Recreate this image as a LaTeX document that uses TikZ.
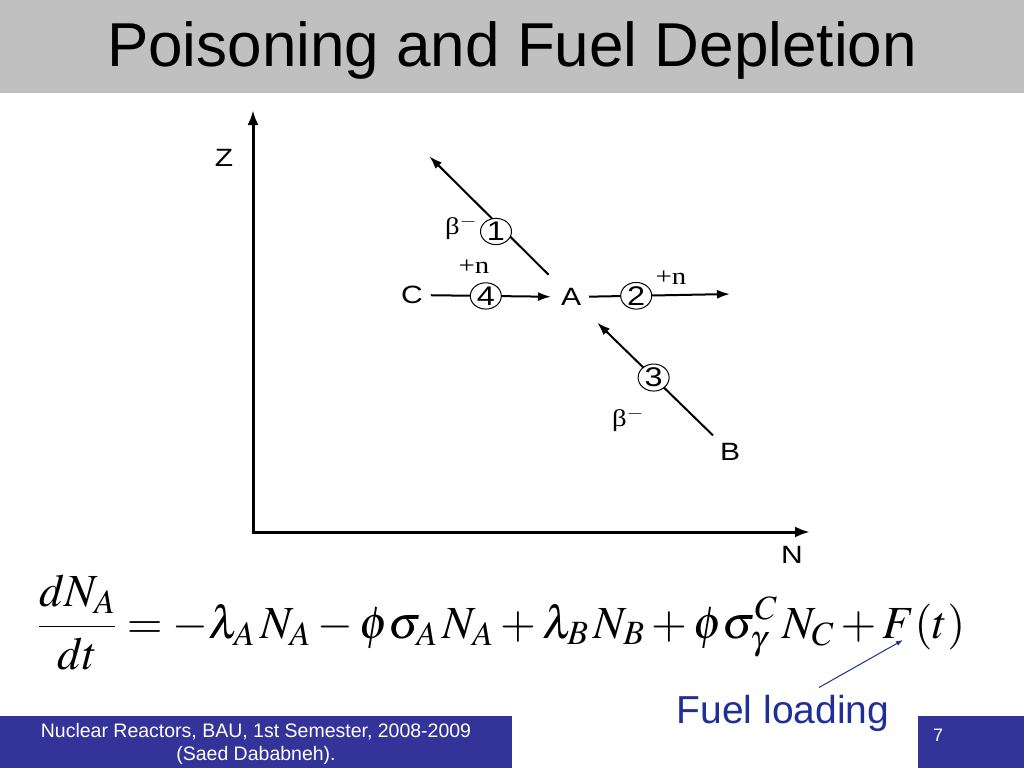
\documentclass[tikz,border=0pt]{standalone}
\usepackage{amsmath}
\usepackage{graphicx}
\usepackage{mathptmx}
\usepackage{fontspec}
\setmainfont{Liberation Serif}
\setsansfont{Liberation Sans}
\usetikzlibrary{arrows.meta,shapes.geometric}

\definecolor{titlegray}{RGB}{192,192,192}
\definecolor{footblue}{RGB}{51,51,153}
\definecolor{fuelblue}{RGB}{30,48,150}

\newcommand{\fs}[1]{\fontsize{#1}{1.2\dimexpr#1pt\relax}\selectfont}
\newcommand{\wide}[1]{\scalebox{1.2}[1]{#1}}

\begin{document}
\begin{tikzpicture}[
            x = 1pt, y = -1pt, % pixel grid, y down
            > = {Latex[length=13pt,width=9pt]}, % arrow head style
            shorten > = 2pt, % don't touch arrow head to node
            line width = 2pt, % line style
            nuclide/.style = {font=\sffamily\fs{25}, inner sep=7pt},
            decay/.style = {ellipse, draw=black, line width=1pt, fill=white, inner sep=0pt,
                            minimum width=31pt, minimum height=25pt, font=\sffamily\fs{27}},
            react/.style = {font=\rmfamily\fs{24}, inner sep=0pt},
            axis/.style = {line width=3pt, line join=miter,
                           {Latex[length=15pt,width=11pt]}-{Latex[length=15pt,width=11pt]}, shorten > = 0pt}
        ]
\useasboundingbox (0,0) rectangle (1024,768);

% title bar
\fill[titlegray] (0,0) rectangle (1024,93);
\node[font=\sffamily\fs{62}] (title) at (512,50) {Poisoning and Fuel Depletion};

% N-Z chart axes
\coordinate (ztop) at (253,110);
\coordinate (nend) at (810,532);
\draw[axis] (ztop) |- (nend);
\node[font=\sffamily\fs{25}] (Z) at (224,158) {\wide{Z}};
\node[font=\sffamily\fs{25}] (N) at (792,555) {\wide{N}};

% nuclides
\node[nuclide] (C) at (412,295) {\wide{C}};
\node[nuclide] (A) at (571,297) {\wide{A}};
\node[nuclide] (B) at (730,452) {\wide{B}};
\coordinate (d1) at (428,155);
\coordinate (d2) at (732,294);

 \path [->] (C) edge node[decay, pos=0.45] {\wide{4}} (A);
 \path [->] (A) edge node[decay, pos=0.33] {\wide{2}} (d2);
 \path [->, shorten < = 8pt] (A) edge node[decay, pos=0.43, xshift=-4pt, yshift=-5pt] {\wide{1}} (d1);
 \path [->, shorten > = 13pt] (B) edge node[decay, pos=0.475] {\wide{3}} (A);

\node[react] (n4) at (474,267) {\wide{+n}};
\node[react] (n2) at (671,278) {\wide{+n}};
\node[react] (b1) at (461,228) {\wide{β$^{-}$}};
\node[react] (b3) at (628,420) {\wide{β$^{-}$}};

% balance equation
\node[anchor=base west, inner sep=0pt, font=\fs{46}] (eq) at (37,638)
  {$\displaystyle \frac{dN_A}{dt} = -\lambda_A\,N_A - \phi\sigma_A\,N_A + \lambda_B\,N_B + \phi\sigma_\gamma^C\,N_C + F(t)$};

\node[font=\sffamily\fs{39}, text=fuelblue] (fuel) at (783,713) {Fuel loading};
\coordinate (Ft) at (903,640);
\draw[fuelblue, line width=1pt, -{Latex[length=7pt,width=5pt]}, shorten > = 0pt] ([xshift=36pt,yshift=3pt]fuel.north) -- (Ft);

% footer
\fill[footblue] (0,716) rectangle (512,768);
\fill[footblue] (918,716) rectangle (1024,768);
\node[font=\sffamily\fs{19.5}, text=white, align=center, inner sep=0pt] (foot) at (256,744)
  {Nuclear Reactors, BAU, 1st Semester, 2008-2009\\[0pt](Saed Dababneh).};
\node[font=\sffamily\fs{18}, text=white] (page) at (938,735) {7};

\end{tikzpicture}
\end{document}
